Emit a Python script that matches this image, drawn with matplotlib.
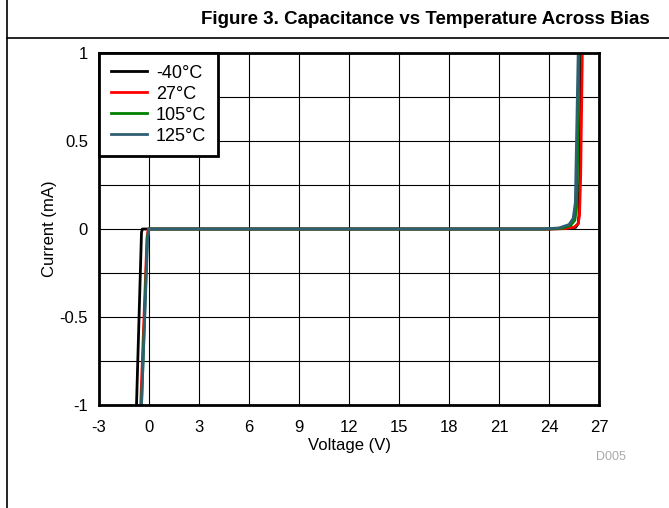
import matplotlib
matplotlib.use('Agg')
import matplotlib.pyplot as plt
from matplotlib.lines import Line2D

plt.rcParams['font.family'] = ['Liberation Sans', 'DejaVu Sans']
plt.rcParams['axes.unicode_minus'] = False

# Data: voltage (V) and current (mA) per temperature
labels = ['-40°C', '27°C', '105°C', '125°C']
colors = ['#000000', '#ff0000', '#008000', '#2e5f73']

v_m40 = [-0.75, -0.45, -0.4, 24.0, 25.3, 25.6, 25.75, 25.8, 25.85, 25.95]
i_m40 = [-1.0, -0.02, 0.0, 0.0, 0.003, 0.01, 0.03, 0.08, 0.3, 1.0]
v_27 = [-0.5, -0.12, -0.05, 24.0, 25.0, 25.5, 25.75, 25.83, 25.9, 26.0]
i_27 = [-1.0, -0.05, 0.0, 0.0, 0.003, 0.01, 0.03, 0.08, 0.3, 1.0]
v_105 = [-0.45, -0.1, 0.0, 23.8, 24.8, 25.3, 25.55, 25.65, 25.72, 25.8]
i_105 = [-1.0, -0.05, 0.0, 0.0, 0.005, 0.02, 0.05, 0.12, 0.4, 1.0]
v_125 = [-0.45, -0.08, 0.0, 23.6, 24.6, 25.2, 25.45, 25.58, 25.65, 25.75]
i_125 = [-1.0, -0.05, 0.0, 0.0, 0.006, 0.025, 0.06, 0.15, 0.5, 1.0]

volts = [v_m40, v_27, v_105, v_125]
amps = [i_m40, i_27, i_105, i_125]

x_ticks = [-3, 0, 3, 6, 9, 12, 15, 18, 21, 24, 27]
y_ticks = [-1, -0.5, 0, 0.5, 1]
y_labels = ['-1', '-0.5', '0', '0.5', '1']

fig = plt.figure(figsize=(6.69, 5.08), dpi=100)

# outer frame lines and title
fig.add_artist(Line2D([7 / 669, 7 / 669], [0, 1], color='black', lw=1.2))
fig.add_artist(Line2D([7 / 669, 1], [1 - 38 / 508, 1 - 38 / 508], color='black', lw=1.2))
fig.text(425 / 669, 1 - 19 / 508, 'Figure 3. Capacitance vs Temperature Across Bias',
         ha='center', va='center', fontsize=13.5, fontweight='bold')

ax = fig.add_axes([99 / 669, 1 - 405 / 508, 500 / 669, 352 / 508])

for v, i, c, lab in zip(volts, amps, colors, labels):
    ax.plot(v, i, color=c, lw=2, label=lab)

ax.set_xlim(-3, 27)
ax.set_ylim(-1, 1)
ax.set_xticks(x_ticks)
ax.set_xticklabels([str(t) for t in x_ticks])
ax.set_yticks(y_ticks)
ax.set_yticklabels(y_labels)
ax.set_yticks([-0.75, -0.25, 0.25, 0.75], minor=True)
ax.grid(True, which='both', color='black', lw=0.8)
ax.set_axisbelow(True)
ax.tick_params(which='both', length=0, labelsize=12)
ax.tick_params(axis='x', pad=11)
ax.tick_params(axis='y', pad=8)
for s in ax.spines.values():
    s.set_linewidth(2)

ax.set_xlabel('Voltage (V)', fontsize=12, labelpad=2)
ax.set_ylabel('Current (mA)', fontsize=12, labelpad=2)

leg = ax.legend(loc='upper left', fontsize=13, frameon=True, fancybox=False,
                borderaxespad=0, handlelength=2.0, labelspacing=0.22,
                borderpad=0.65, handletextpad=0.5)
leg.get_frame().set_edgecolor('black')
leg.get_frame().set_linewidth(2)
leg.get_frame().set_alpha(1)

fig.text(611 / 669, 1 - 457 / 508, 'D005', ha='center', va='center',
         fontsize=9, color='#aaaaaa')

fig.savefig('out.png', dpi=100)
